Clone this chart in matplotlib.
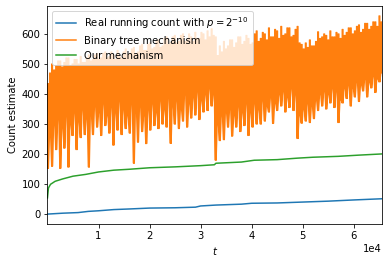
import numpy as np
import matplotlib
matplotlib.use("Agg")
import matplotlib.pyplot as plt

plt.rcParams["path.simplify"] = False

# real running count (blue)
real_t = [1, 3000, 6000, 8000, 10000, 13000, 16000, 20000, 25000, 29000, 30000,
          33000, 38000, 40000, 45000, 50000, 55000, 60000, 65536]
real_count = [1, 4, 6, 10, 12, 16, 18, 21, 22, 24, 28,
              31, 34, 37, 38, 41, 44, 48, 52]

# our mechanism (green)
ours_t = [1, 200, 600, 1500, 3000, 5000, 7500, 10000, 13000, 16000, 20000, 25000,
          30000, 32700, 33000, 38000, 40500, 45000, 49000, 52000, 57000, 61000, 65536]
ours_est = [55, 88, 100, 110, 118, 127, 133, 141, 147, 150, 155, 158,
            162, 165, 170, 174, 180, 182, 187, 190, 193, 197, 201]

# binary tree mechanism (orange): min and max of each ~2px column
tree_low = [153, 260, 160, 300, 215, 320, 153, 290, 220, 330, 157, 300, 262, 340, 215, 310,
            255, 350, 265, 320, 157, 330, 265, 360, 290, 340, 262, 370, 295, 330, 270, 360,
            230, 340, 280, 380, 265, 350, 285, 330, 270, 370, 170, 340, 240, 360, 275, 330,
            235, 350, 280, 370, 295, 340, 285, 380, 300, 350, 290, 390, 236, 360, 300, 380,
            285, 350, 310, 400, 290, 370, 320, 390, 330, 410, 315, 380, 340, 400, 345, 420,
            360, 400, 180, 300, 245, 330, 248, 340, 290, 350, 260, 330, 290, 360, 275, 340,
            295, 370, 262, 340, 290, 370, 300, 350, 300, 380, 310, 360, 340, 390, 302, 370,
            345, 400, 360, 410, 340, 390, 355, 420, 345, 400, 252, 330, 303, 350, 310, 370,
            305, 360, 318, 380, 345, 400, 360, 410, 350, 400, 370, 420, 355, 410, 305, 380,
            370, 420, 385, 430, 360, 420, 390, 440, 375, 430, 410, 450, 390, 440, 420, 460,
            405, 450, 440, 470]
tree_high = [435, 470, 500, 480, 495, 510, 510, 490, 505, 520, 520, 495, 500, 515, 515, 500,
             525, 505, 505, 520, 530, 510, 515, 530, 535, 515, 520, 535, 540, 520, 525, 540,
             530, 515, 545, 525, 520, 540, 550, 530, 535, 550, 555, 535, 540, 560, 565, 545,
             545, 565, 570, 550, 555, 575, 580, 555, 560, 585, 590, 565, 570, 590, 595, 570,
             575, 595, 600, 575, 580, 600, 590, 575, 605, 585, 585, 605, 600, 580, 610, 590,
             617, 595, 590, 528, 560, 540, 575, 550, 560, 580, 580, 555, 570, 590, 590, 565,
             575, 595, 585, 565, 570, 600, 610, 575, 585, 605, 600, 580, 620, 590, 590, 615,
             610, 585, 625, 595, 600, 620, 620, 590, 595, 615, 625, 570, 565, 550, 570, 555,
             580, 560, 560, 575, 607, 585, 590, 600, 595, 580, 610, 590, 590, 605, 600, 585,
             615, 595, 605, 620, 620, 600, 610, 625, 630, 605, 615, 635, 635, 615, 625, 640,
             640, 625, 660, 640]

# each column drawn as vertical strokes (two per column, ~1px apart)
lo = np.repeat(tree_low, 2)
hi = np.repeat(tree_high, 2)
up = np.arange(len(lo)) % 2 == 0
tree_t = np.repeat(np.linspace(1, 65536, len(lo)), 2)
tree_est = np.column_stack([np.where(up, lo, hi), np.where(up, hi, lo)]).ravel()

fig = plt.figure(figsize=(389 / 72, 264 / 72), dpi=72)
ax = fig.add_axes([0.122, 0.1515, 0.86, 0.826])
ax.plot(real_t, real_count, label=r"Real running count with $p = 2^{-10}$")
ax.plot(tree_t, tree_est, lw=1.1, label="Binary tree mechanism")
ax.plot(ours_t, ours_est, label="Our mechanism")
ax.set_xlim(1, 65536)
ax.ticklabel_format(axis="x", style="sci", scilimits=(0, 0))
ax.set_xlabel("$t$")
ax.set_ylabel("Count estimate")
leg = ax.legend(loc="upper left")
leg.get_lines()[1].set_linewidth(1.5)
fig.savefig("out.png", dpi=72)
